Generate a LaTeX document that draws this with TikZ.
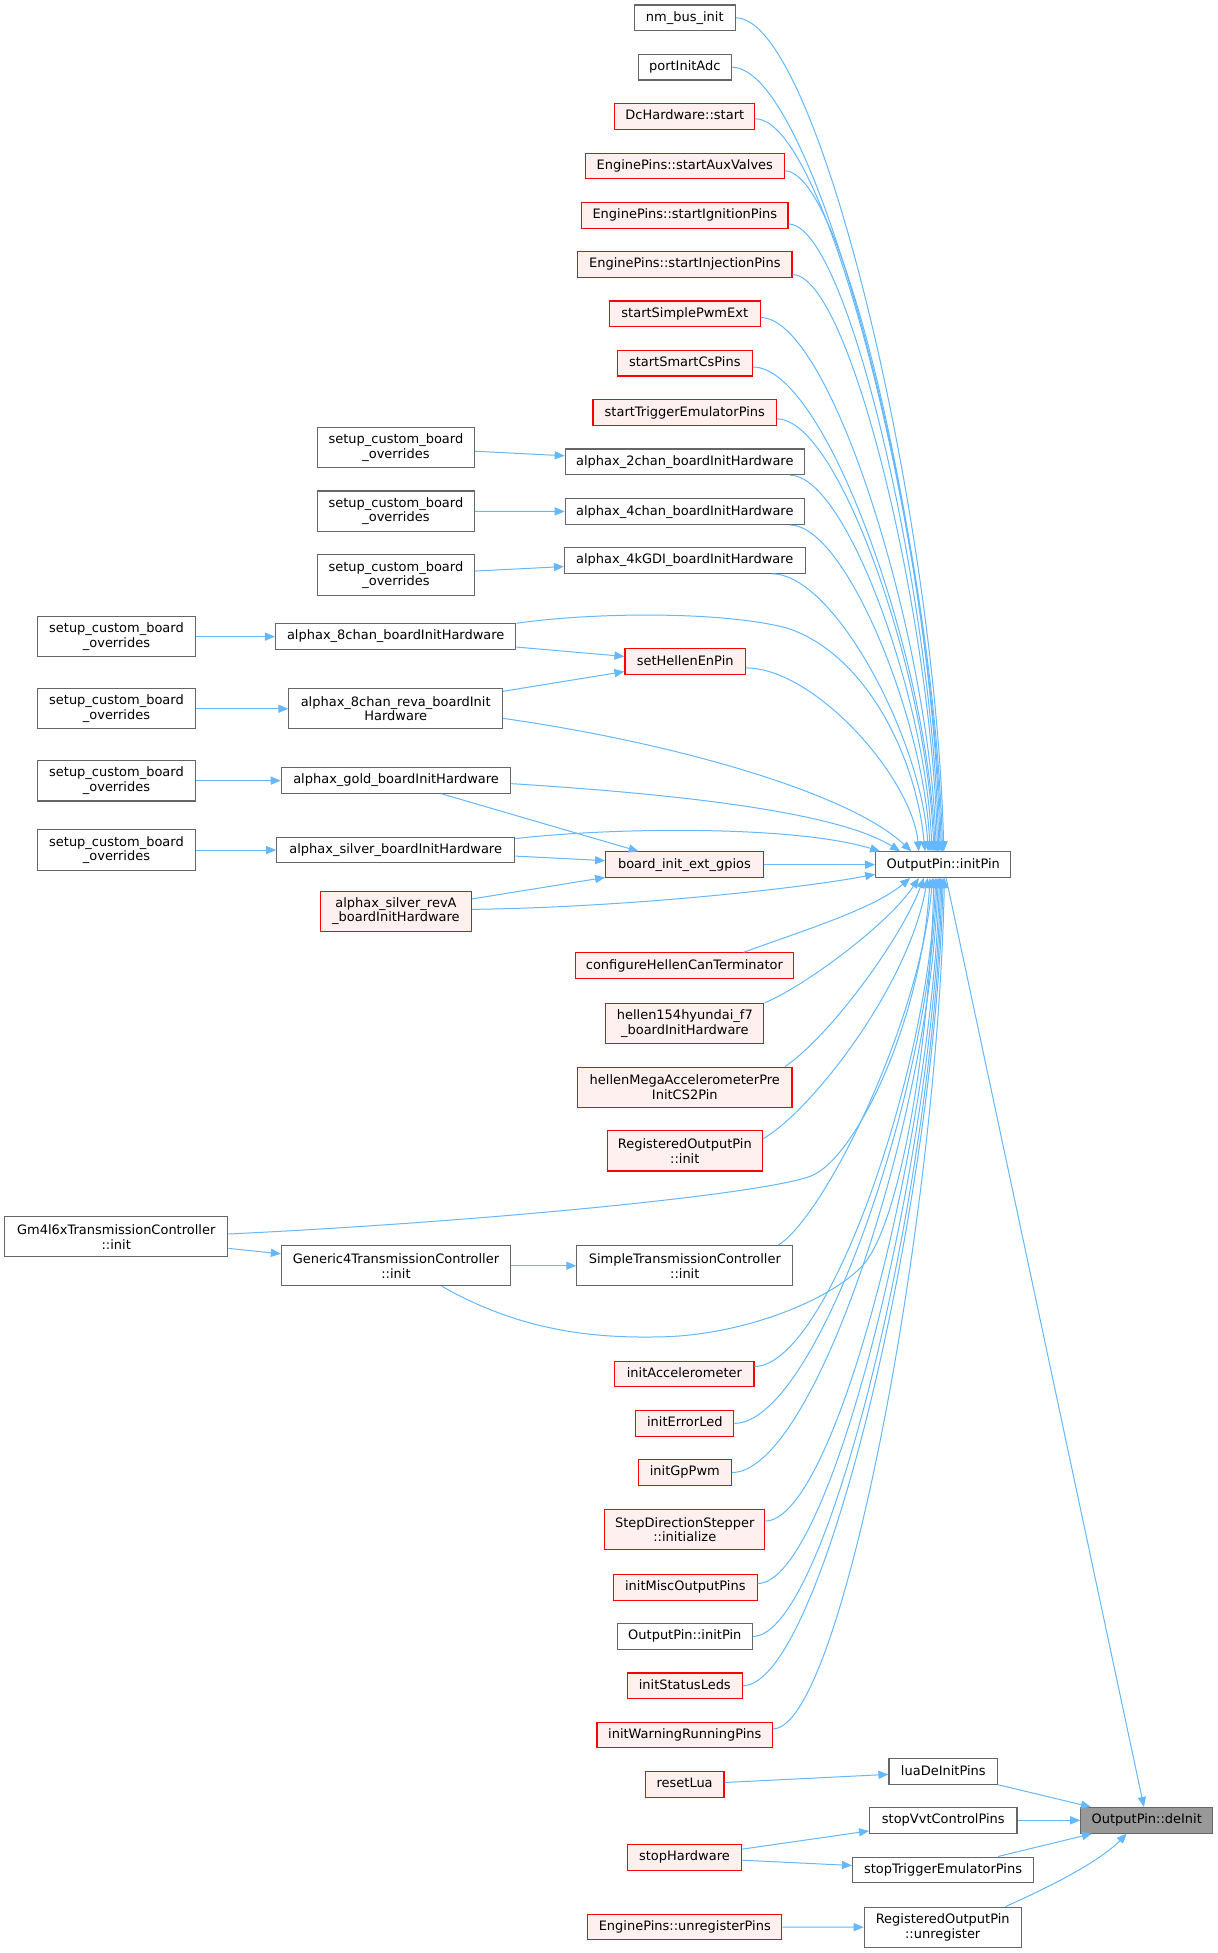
\documentclass[tikz,border=0pt]{standalone}
\usepackage{fontspec}
\setmainfont{DejaVu Sans}
\usetikzlibrary{arrows.meta,calc}
\definecolor{edgec}{HTML}{63B8FF}
\definecolor{redb}{HTML}{FF0000}
\definecolor{redf}{HTML}{FFF0F0}
\definecolor{grayb}{HTML}{666666}
\definecolor{grayf}{HTML}{999999}
\newcommand{\dxfont}{\fontsize{10.4pt}{11.8pt}\selectfont}
\newcommand{\cvr}[2]{\draw[cline] let \p1=(#1), \p2=(#2) in (\p1) .. controls ({\x1+0.4*(\x2-\x1)},\y1) and ({\x2-0.04*(\x2-\x1)},{\y1+0.6*(\y2-\y1)}) .. (\p2);}
\tikzset{
  nbox/.style={line width=0.9pt, inner xsep=1pt, inner ysep=0pt, font=\dxfont, align=center, minimum height=20.5pt},
  one/.style={text height=7.7pt, text depth=2.3pt},
  two/.style={minimum height=32.3pt},
  wbox/.style={nbox, one, draw=grayb, fill=white},
  rbox/.style={nbox, one, draw=redb, fill=redf},
  gbox/.style={nbox, one, draw=grayb, fill=grayf},
  wbox2/.style={nbox, two, draw=grayb, fill=white},
  rbox2/.style={nbox, two, draw=redb, fill=redf},
  cline/.style={draw=edgec, line width=0.8pt, -{Triangle[length=8pt,width=6.5pt]}}
}
\begin{document}
\begin{tikzpicture}[x=1pt,y=-1pt]
\fill[white] (0,0) rectangle (975,1564.6);
\useasboundingbox (0,0) rectangle (975,1564.6);
% column 3
\node[wbox, minimum width=81pt] (nm) at (548.6,14.3) {nm\_bus\_init};
\node[wbox, minimum width=74.4pt] (pia) at (548.6,53.8) {portInitAdc};
\node[rbox, minimum width=112pt] (dcs) at (548.6,93.2) {DcHardware::start};
\node[rbox, minimum width=159.3pt] (aux) at (548.6,132.9) {EnginePins::startAuxValves};
\node[rbox, minimum width=165.4pt] (ign) at (548.6,172.5) {EnginePins::startIgnitionPins};
\node[rbox, minimum width=171.7pt] (inj) at (548.6,212) {EnginePins::startInjectionPins};
\node[rbox, minimum width=120.7pt] (spw) at (548.6,251.4) {startSimplePwmExt};
\node[rbox, minimum width=108.3pt] (scs) at (548.6,291) {startSmartCsPins};
\node[rbox, minimum width=147pt] (tre) at (548.6,330.6) {startTriggerEmulatorPins};
\node[wbox, minimum width=191.6pt] (a2c) at (548.6,370) {alphax\_2chan\_boardInitHardware};
\node[wbox, minimum width=191.6pt] (a4c) at (548.6,409.9) {alphax\_4chan\_boardInitHardware};
\node[wbox, minimum width=192.8pt] (agd) at (548.6,449) {alphax\_4kGDI\_boardInitHardware};
\node[rbox, minimum width=96.4pt] (she) at (548.9,530.1) {setHellenEnPin};
\node[rbox, minimum width=126.2pt] (bie) at (548.3,692.7) {board\_init\_ext\_gpios};
\node[rbox, minimum width=174.8pt] (chc) at (548.3,773.6) {configureHellenCanTerminator};
\node[rbox2, minimum width=126.8pt] (h154) at (548.6,820) {hellen154hyundai\_f7\\\_boardInitHardware};
\node[rbox2, minimum width=171.7pt] (hma) at (548.6,871) {hellenMegaAccelerometerPre\\InitCS2Pin};
\node[rbox2, minimum width=124.4pt] (roi) at (548.6,922) {RegisteredOutputPin\\::init};
\node[wbox2, minimum width=173pt] (stc) at (548.6,1014) {SimpleTransmissionController\\::init};
\node[rbox, minimum width=111.4pt] (iac) at (548.3,1100.7) {initAccelerometer};
\node[rbox, minimum width=78.4pt] (iel) at (548.6,1140.3) {initErrorLed};
\node[rbox, minimum width=74.6pt] (igp) at (548.6,1179.7) {initGpPwm};
\node[rbox2, minimum width=128.2pt] (sds) at (548.6,1225.5) {StepDirectionStepper\\::initialize};
\node[rbox, minimum width=115pt] (imo) at (549,1271.6) {initMiscOutputPins};
\node[wbox, minimum width=108.2pt] (ip2) at (548.6,1311) {OutputPin::initPin};
\node[rbox, minimum width=92pt] (isl) at (548.6,1350.5) {initStatusLeds};
\node[rbox, minimum width=140.6pt] (iwr) at (548.6,1390) {initWarningRunningPins};
\node[rbox, minimum width=63pt] (rlu) at (548.5,1429.6) {resetLua};
\node[rbox, minimum width=91.5pt] (sth) at (548.3,1488) {stopHardware};
\node[rbox, minimum width=155.5pt] (eup) at (548.6,1543.7) {EnginePins::unregisterPins};
% column 2
\node[wbox2, minimum width=125.6pt] (s2a) at (317.2,358.3) {setup\_custom\_board\\\_overrides};
\node[wbox2, minimum width=125.6pt] (s2b) at (317.2,409.5) {setup\_custom\_board\\\_overrides};
\node[wbox2, minimum width=125.6pt] (s2c) at (317.2,460.7) {setup\_custom\_board\\\_overrides};
\node[wbox, minimum width=192.6pt] (a8c) at (317,510) {alphax\_8chan\_boardInitHardware};
\node[wbox2, minimum width=171.1pt] (a8r) at (317,567.8) {alphax\_8chan\_reva\_boardInit\\Hardware};
\node[wbox, minimum width=183.9pt] (agl) at (317.3,625.3) {alphax\_gold\_boardInitHardware};
\node[wbox, minimum width=190.7pt] (asv) at (317,681) {alphax\_silver\_boardInitHardware};
\node[rbox2, minimum width=121.1pt] (asr) at (317.2,730) {alphax\_silver\_revA\\\_boardInitHardware};
\node[wbox2, minimum width=183.5pt] (g4t) at (317.2,1014) {Generic4TransmissionController\\::init};
% column 1
\node[wbox2, minimum width=126.7pt] (s1a) at (93.3,510) {setup\_custom\_board\\\_overrides};
\node[wbox2, minimum width=126.7pt] (s1b) at (93.3,567.8) {setup\_custom\_board\\\_overrides};
\node[wbox2, minimum width=126.7pt] (s1c) at (93.3,625.5) {setup\_custom\_board\\\_overrides};
\node[wbox2, minimum width=126.7pt] (s1d) at (93.3,681) {setup\_custom\_board\\\_overrides};
\node[wbox2, minimum width=178.9pt] (gm4) at (93.1,990.8) {Gm4l6xTransmissionController\\::init};
% column 4 and 5
\node[wbox, minimum width=108.3pt] (ip) at (755.7,692.7) {OutputPin::initPin};
\node[wbox, minimum width=87.1pt] (ldp) at (755.7,1419.3) {luaDeInitPins};
\node[wbox, minimum width=118.1pt] (svc) at (755.7,1458.3) {stopVvtControlPins};
\node[wbox, minimum width=145pt] (ste) at (755.5,1498) {stopTriggerEmulatorPins};
\node[wbox2, minimum width=125.7pt] (rou) at (755.2,1544) {RegisteredOutputPin\\::unregister};
\node[gbox, minimum width=105.8pt] (odi) at (918.7,1458.3) {OutputPin::deInit};
% straight connectors
\draw[cline] (s2a) -- (a2c);
\draw[cline] (s2b) -- (a4c);
\draw[cline] (s2c) -- (agd);
\draw[cline] (s1a) -- (a8c);
\draw[cline] (s1b) -- (a8r);
\draw[cline] (s1c) -- (agl);
\draw[cline] (s1d) -- (asv);
\draw[cline] (a8c) -- (she);
\draw[cline] (a8r) -- (she);
\draw[cline] (agl) -- (bie);
\draw[cline] (asv) -- (bie);
\draw[cline] (asr) -- (bie);
\draw[cline] (bie) -- (ip);
\draw[cline] (gm4) -- (g4t);
\draw[cline] (g4t) -- (stc);
\draw[cline] (ip) -- (odi);
\draw[cline] (rlu) -- (ldp);
\draw[cline] (sth) -- (svc);
\draw[cline] (sth) -- (ste);
\draw[cline] (eup) -- (rou);
\draw[cline] (ldp) -- (odi);
\draw[cline] (svc) -- (odi);
\draw[cline] (ste) -- (odi);
\draw[cline] ($(rou.north east)+(-13,0)$) .. controls (840,1512) and (880,1492) .. ($(odi.south)+(-16,0)$);
% curves into initPin from above
\cvr{nm.east}{$(ip.north west)+(55,0)$}
\cvr{pia.east}{$(ip.north west)+(54,0)$}
\cvr{$(dcs.east)+(0,2)$}{$(ip.north west)+(53,0)$}
\cvr{$(aux.east)+(0,4)$}{$(ip.north west)+(52,0)$}
\cvr{$(ign.east)+(0,7)$}{$(ip.north west)+(51,0)$}
\cvr{$(inj.east)+(0,8)$}{$(ip.north west)+(50,0)$}
\cvr{$(spw.east)+(0,3)$}{$(ip.north west)+(49,0)$}
\cvr{$(scs.east)+(0,3)$}{$(ip.north west)+(48,0)$}
\cvr{$(tre.east)+(0,5)$}{$(ip.north west)+(47,0)$}
\cvr{$(a2c.south east)+(-12,0)$}{$(ip.north west)+(45.5,0)$}
\cvr{$(a4c.south east)+(-12,0)$}{$(ip.north west)+(44,0)$}
\cvr{$(agd.south east)+(-27,0)$}{$(ip.north west)+(42.5,0)$}
\cvr{$(she.east)+(0,5)$}{$(ip.north west)+(35,0)$}
\draw[cline] (a8c.north east) .. controls (480,490) and (580,490) .. (630,503) .. controls (690,522) and (733,600) .. ($(ip.north west)+(40,0)$);
\draw[cline] ($(a8r.east)+(0,7.7)$) .. controls (540,595) and (680,635) .. ($(ip.north west)+(29,0)$);
\draw[cline] ($(agl.east)+(0,2.5)$) .. controls (540,636) and (670,650) .. ($(ip.north west)+(20,0)$);
\draw[cline] ($(asv.north east)+(0,1.5)$) .. controls (500,662) and (640,662) .. ($(ip.north west)+(4,0)$);
% curves into initPin from below
\draw[cline] ($(asr.east)+(0,-1.5)$) .. controls (500,727) and (640,712) .. ($(ip.south west)+(0,-3)$);
\draw[cline] ($(chc.north)+(47.4,0)$) .. controls (645,745) and (700,728) .. ($(ip.south west)+(28,0)$);
\draw[cline] (h154.north east) .. controls (645,790) and (712,740) .. ($(ip.south west)+(35,0)$);
\draw[cline] ($(hma.north east)+(-6,0)$) .. controls (665,830) and (722,752) .. ($(ip.south west)+(39,0)$);
\draw[cline] ($(roi.east)+(0,-9.7)$) .. controls (650,890) and (728,790) .. ($(ip.south west)+(42,0)$);
\draw[cline] ($(gm4.east)+(0,-2.2)$) .. controls (400,978) and (615,956) .. (650,942) .. controls (685,928) and (738,820) .. ($(ip.south west)+(44,0)$);
\draw[cline] ($(stc.north east)+(-12,0)$) .. controls (660,975) and (737,820) .. ($(ip.south west)+(46,0)$);
\draw[cline] ($(g4t.south)+(37,0)$) .. controls (420,1068) and (480,1072) .. (529,1071) .. controls (590,1070) and (660,1045) .. (690,1015) .. controls (720,985) and (745,840) .. ($(ip.south west)+(47,0)$);
\cvr{$(iac.east)+(0,-6)$}{$(ip.south west)+(48.5,0)$}
\cvr{iel.east}{$(ip.south west)+(49.5,0)$}
\cvr{igp.east}{$(ip.south west)+(50.5,0)$}
\cvr{$(sds.east)+(0,-7)$}{$(ip.south west)+(51.5,0)$}
\cvr{$(imo.east)+(0,-3)$}{$(ip.south west)+(52.5,0)$}
\cvr{ip2.east}{$(ip.south west)+(53.5,0)$}
\cvr{isl.east}{$(ip.south west)+(54.5,0)$}
\cvr{$(iwr.east)+(0,-5)$}{$(ip.south west)+(55.5,0)$}
\end{tikzpicture}
\end{document}
